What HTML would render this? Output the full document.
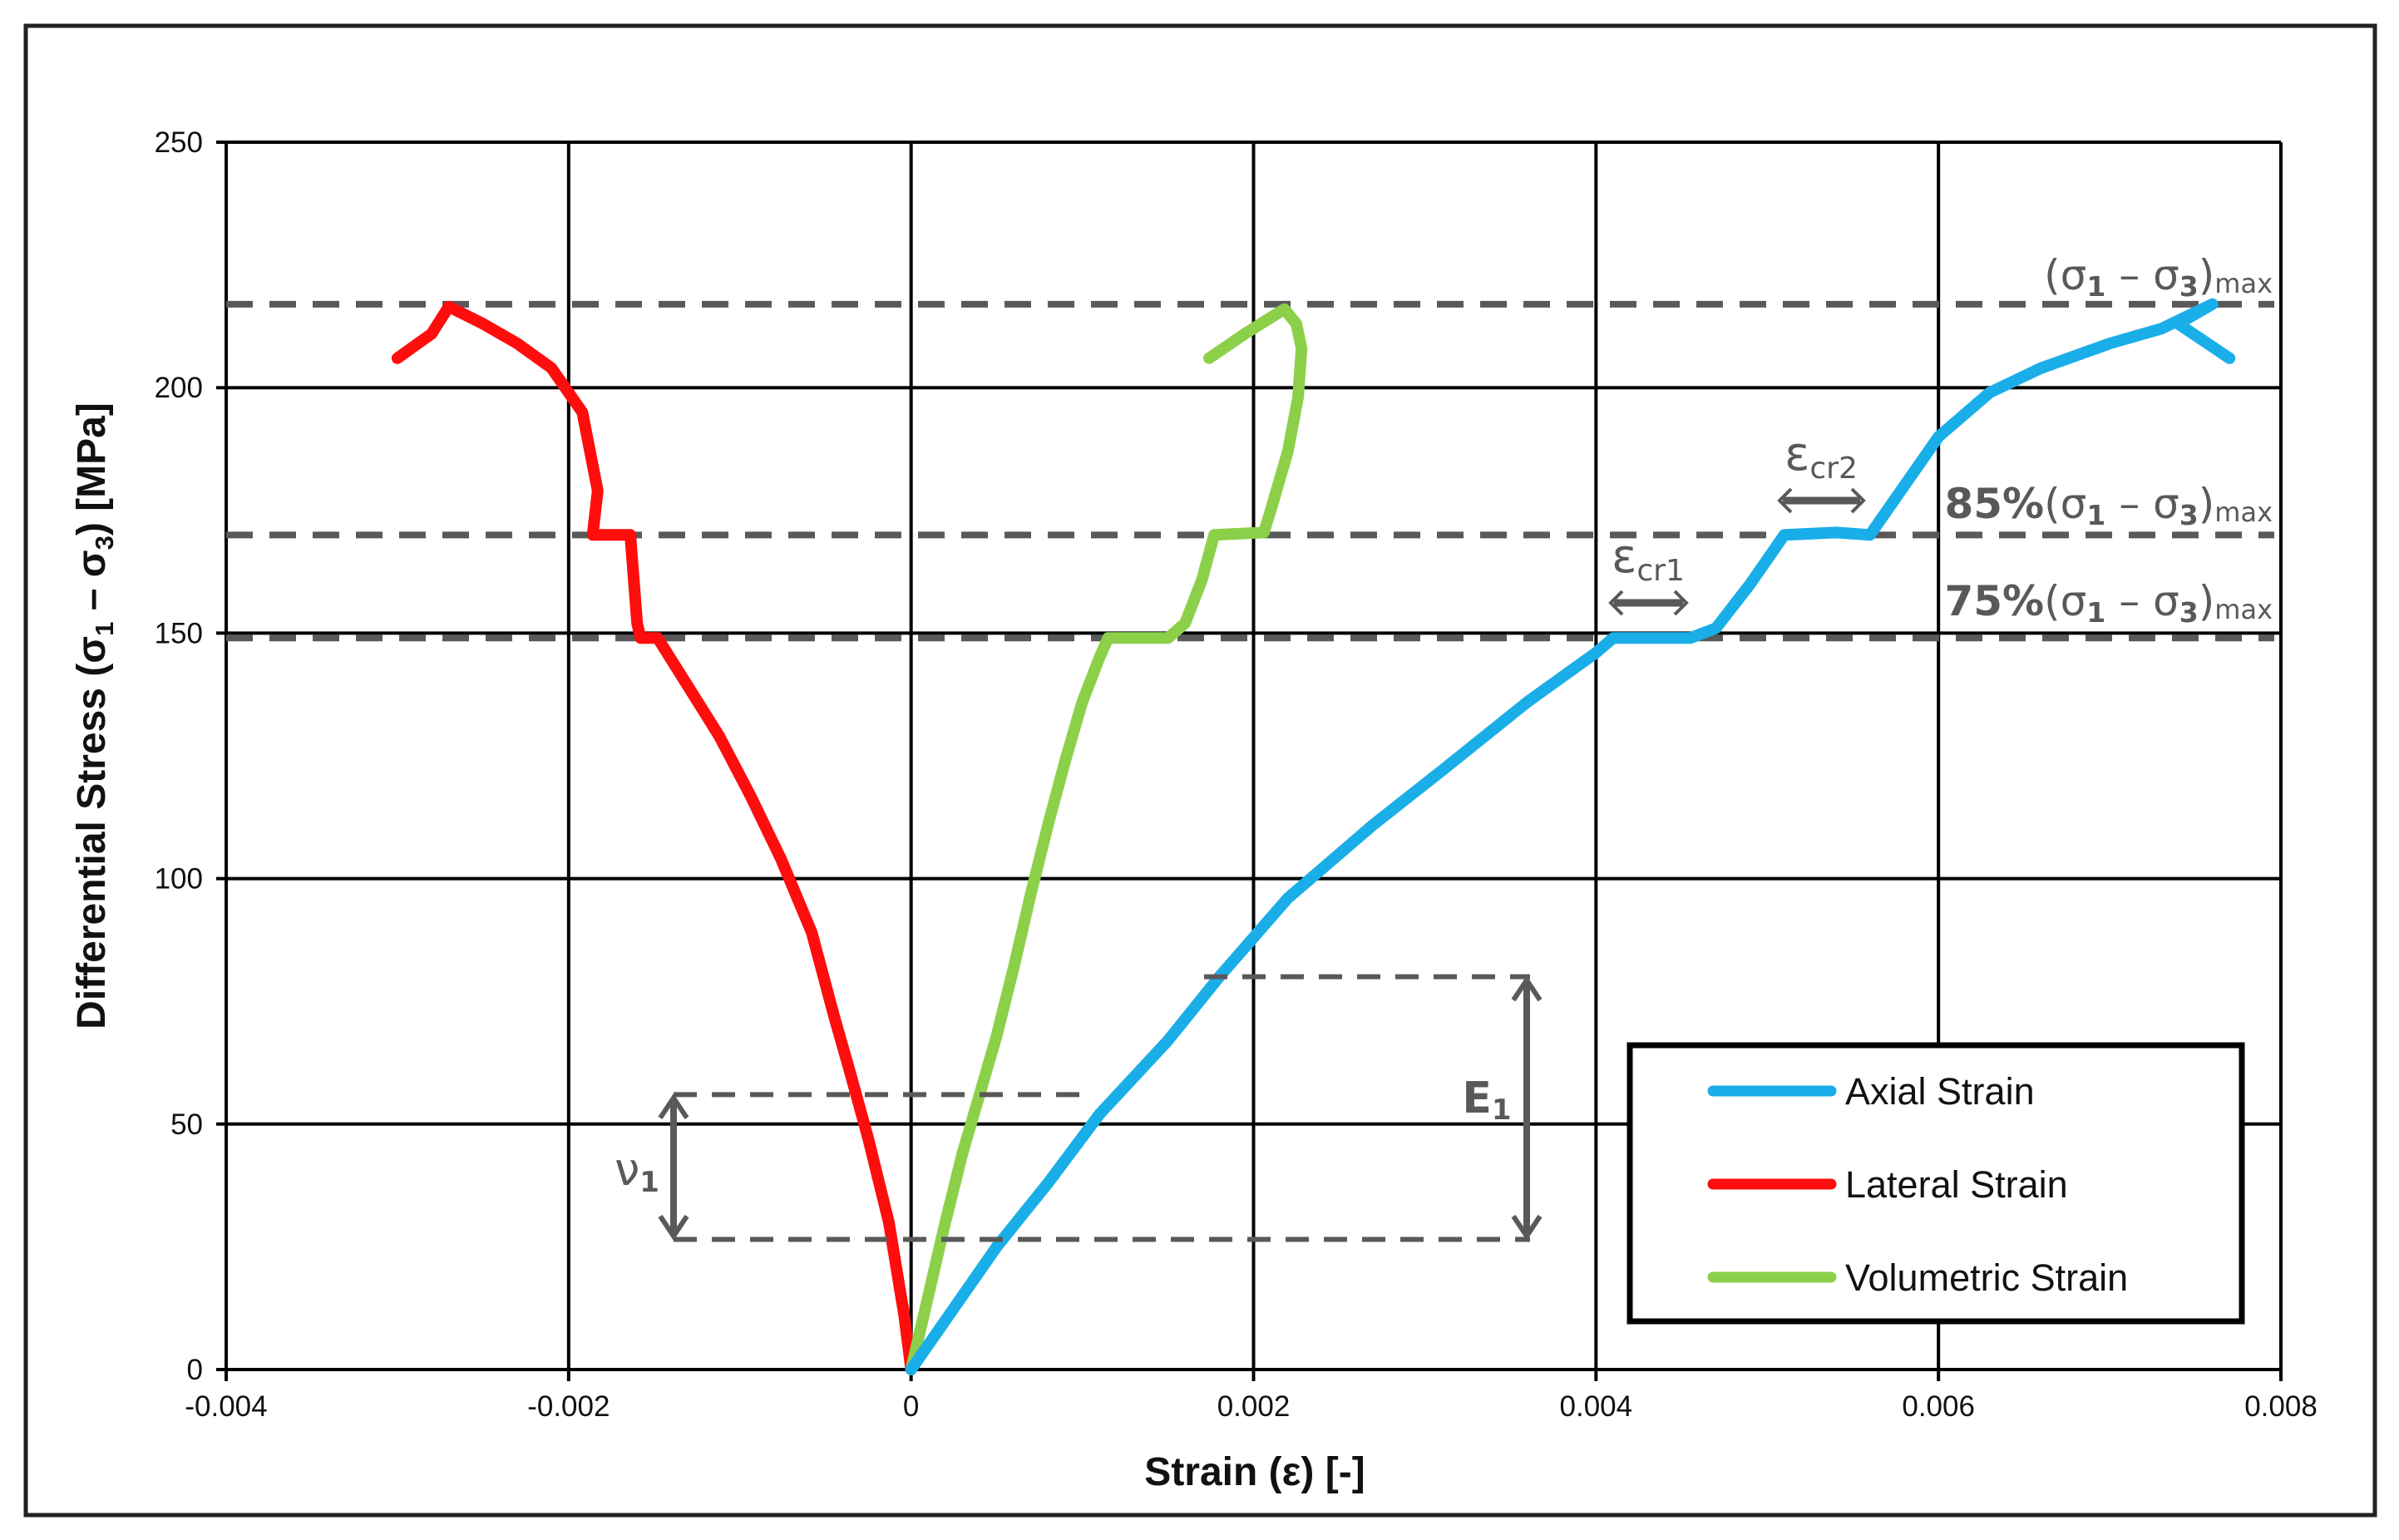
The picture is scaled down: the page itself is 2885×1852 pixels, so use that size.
<!DOCTYPE html>
<html><head><meta charset="utf-8"><style>
html,body{margin:0;padding:0;background:#fff;}
svg{display:block;font-family:"Liberation Sans",sans-serif;}
</style></head><body>
<svg id="chart" width="2885" height="1852" viewBox="0 0 2885 1852" xmlns="http://www.w3.org/2000/svg">
<rect x="31" y="31" width="2825" height="1791" fill="#fff" stroke="#222" stroke-width="5"/>
<g id="grid"></g>
<g id="refs"></g>
<g id="series"></g>
<g id="annot"></g>
<text x="1509" y="1786" font-size="48" font-weight="bold" text-anchor="middle" fill="#111">Strain (ε) [-]</text>
<text transform="translate(126,861) rotate(-90)" font-size="48" font-weight="bold" text-anchor="middle" fill="#111">Differential Stress (σ<tspan font-size="31" dy="10">1</tspan><tspan dy="-10"> – σ</tspan><tspan font-size="31" dy="10">3</tspan><tspan dy="-10">) [MPa]</tspan></text>
<g>
<rect x="1960" y="1257" width="736" height="332" fill="#fff" stroke="#000" stroke-width="7"/>
<line x1="2060" y1="1312" x2="2202" y2="1312" stroke="#1aaee8" stroke-width="13" stroke-linecap="round"/>
<text x="2219" y="1328" font-size="45" fill="#111">Axial Strain</text>
<line x1="2060" y1="1424" x2="2202" y2="1424" stroke="#ff0d0d" stroke-width="13" stroke-linecap="round"/>
<text x="2219" y="1440" font-size="45" fill="#111">Lateral Strain</text>
<line x1="2060" y1="1536" x2="2202" y2="1536" stroke="#8cd04a" stroke-width="13" stroke-linecap="round"/>
<text x="2219" y="1552" font-size="45" fill="#111">Volumetric Strain</text>
</g>
</svg>
<script>
const xTicks=[-0.004,-0.002,0,0.002,0.004,0.006,0.008];
const xTickLabels=["-0.004","-0.002","0","0.002","0.004","0.006","0.008"];
const yTicks=[0,50,100,150,200,250];
const yTickLabels=["0","50","100","150","200","250"];
const refLevels=[217,170,149];
const axialX=[0,0.0002,0.0005,0.0008,0.0011,0.0015,0.0018,0.0022,0.0027,0.0031,0.0036,0.004,0.0041,0.00455,0.0047,0.0049,0.0051,0.0054,0.0056,0.0058,0.006,0.0063,0.0066,0.007,0.0073,0.0076,0.0074,0.0077];
const axialY=[0,10,25,38,52,67,80,96,111,122,136,146,149,149,151,160,170,170.5,170,180,190,199,204,209,212,217,213,206];
const latX=[0,-0.00004,-0.00013,-0.00025,-0.00036,-0.00045,-0.00058,-0.00076,-0.00094,-0.00112,-0.0013,-0.00148,-0.00158,-0.0016,-0.00164,-0.00174,-0.00186,-0.00183,-0.00192,-0.002,-0.0021,-0.0023,-0.0025,-0.0027,-0.0028,-0.003];
const latY=[0,11,30,47,61,72,89,104,117,129,139,149,149,152,170,170,170,179,195,199,204,209,213,216.5,211,206];
const volX=[0,0.0001,0.0002,0.0003,0.0004,0.0005,0.0006,0.0007,0.0008,0.0009,0.001,0.0011,0.00115,0.0015,0.0016,0.0017,0.00177,0.00206,0.0021,0.0022,0.00226,0.00228,0.00225,0.00218,0.00195,0.00174];
const volY=[0,15,30,44,56,68,82,97,111,124,136,145,149,149,152,161,170,170.5,175,187,198,208,213,216,211,206];
const X0=272,X1=2743,Y0=1647,Y1=171;
function sx(v){return X0+(v+0.004)/0.012*(X1-X0);}
function sy(v){return Y0-v/250*(Y0-Y1);}
const NS="http://www.w3.org/2000/svg";
function mk(tag,attrs,parent){const e=document.createElementNS(NS,tag);for(const k in attrs)e.setAttribute(k,attrs[k]);parent.appendChild(e);return e;}
const grid=document.getElementById('grid');
xTicks.forEach((t,i)=>{
 const l=mk('line',{x1:sx(t),x2:sx(t),y1:Y1,y2:Y0+14,stroke:'#000','stroke-width':4},grid);
 
 
 const tx=mk('text',{x:sx(t),y:Y0+56,'font-size':35,'text-anchor':'middle',fill:'#111'},grid);
 tx.textContent=xTickLabels[i];
 
 
});
yTicks.forEach((t,i)=>{
 const l=mk('line',{x1:X0-12,x2:X1,y1:sy(t),y2:sy(t),stroke:'#000','stroke-width':4},grid);
 
 
 const tx=mk('text',{x:X0-28,y:sy(t)+12,'font-size':35,'text-anchor':'end',fill:'#111'},grid);
 tx.textContent=yTickLabels[i];
 
 
});
const refs=document.getElementById('refs');
refLevels.forEach(v=>{
 const l=mk('line',{x1:X0,x2:X1-8,y1:sy(v),y2:sy(v),stroke:'#595959','stroke-width':8,'stroke-dasharray':'32 20'},refs);
 
 
});
const ser=document.getElementById('series');
function series(xs,ys,color,name){
 const d=xs.map((x,i)=>(i?'L':'M')+sx(x).toFixed(1)+' '+sy(ys[i]).toFixed(1)).join(' ');
 const p=mk('path',{d:d,fill:'none',stroke:color,'stroke-width':14,'stroke-linejoin':'round','stroke-linecap':'round'},ser);
 
 
}
series(latX,latY,'#ff0d0d','lateral-strain-line');
series(volX,volY,'#8cd04a','volumetric-strain-line');
series(axialX,axialY,'#1aaee8','axial-strain-line');
const an=document.getElementById('annot');
function dash(x1,y1,x2,y2,name){const l=mk('line',{x1:x1,y1:y1,x2:x2,y2:y2,stroke:'#595959','stroke-width':6,'stroke-dasharray':'28 18'},an);
 
 }
function arrowV(x,ya,yb,name){const g=mk('g',{},an);
 
 
 mk('line',{x1:x,y1:ya+6,x2:x,y2:yb-6,stroke:'#595959','stroke-width':8},g);
 mk('path',{d:`M${x-16} ${ya+28} L${x} ${ya+4} L${x+16} ${ya+28} M${x-16} ${yb-28} L${x} ${yb-4} L${x+16} ${yb-28}`,fill:'none',stroke:'#595959','stroke-width':6},g);}
function arrowH(xa,xb,y,name){const g=mk('g',{},an);
 
 
 mk('line',{x1:xa+4,y1:y,x2:xb-4,y2:y,stroke:'#595959','stroke-width':9},g);
 mk('path',{d:`M${xa+14} ${y-14} L${xa} ${y} L${xa+14} ${y+14} M${xb-14} ${y-14} L${xb} ${y} L${xb-14} ${y+14}`,fill:'none',stroke:'#595959','stroke-width':4},g);}
dash(1448,sy(80),1840,sy(80),'e1-top-dash');
dash(810,sy(26.5),1840,sy(26.5),'baseline-dash');
dash(810,sy(56),1316,sy(56),'nu1-top-dash');
arrowV(810,sy(56),sy(26.5),'nu1-arrow');
arrowV(1836,sy(80),sy(26.5),'e1-arrow');
arrowH(1937,2028,725,'ecr1-arrow');
arrowH(2140,2241,602,'ecr2-arrow');
function txt(x,y,html,size,anchor,weight,name){const t=mk('text',{x:x,y:y,'font-size':size,'text-anchor':anchor,'font-weight':weight,fill:'#595959','font-family':'"DejaVu Sans","Liberation Sans",sans-serif'},an);t.innerHTML=html;
 
 }
txt(766,1425,'ν<tspan font-size="34" dy="8" font-weight="bold">1</tspan>',54,'middle','normal','nu1-label');
txt(1788,1338,'E<tspan font-size="34" dy="8">1</tspan>',52,'middle','bold','e1-label');
txt(1982,688,'ε<tspan font-size="36" dy="10">cr1</tspan>',56,'middle','normal','ecr1-label');
txt(2190,565,'ε<tspan font-size="36" dy="10">cr2</tspan>',56,'middle','normal','ecr2-label');
txt(2733,348,'(σ<tspan font-size="33" dy="8" font-weight="bold">1</tspan><tspan dy="-8"> – σ</tspan><tspan font-size="33" dy="8" font-weight="bold">3</tspan><tspan dy="-8">)</tspan><tspan font-size="32" dy="4">max</tspan>',50,'end','normal','max-stress-label');
txt(2733,623,'<tspan font-weight="bold">85%</tspan>(σ<tspan font-size="33" dy="8" font-weight="bold">1</tspan><tspan dy="-8"> – σ</tspan><tspan font-size="33" dy="8" font-weight="bold">3</tspan><tspan dy="-8">)</tspan><tspan font-size="32" dy="4">max</tspan>',50,'end','normal','85-percent-label');
txt(2733,740,'<tspan font-weight="bold">75%</tspan>(σ<tspan font-size="33" dy="8" font-weight="bold">1</tspan><tspan dy="-8"> – σ</tspan><tspan font-size="33" dy="8" font-weight="bold">3</tspan><tspan dy="-8">)</tspan><tspan font-size="32" dy="4">max</tspan>',50,'end','normal','75-percent-label');
</script>
</body></html>
